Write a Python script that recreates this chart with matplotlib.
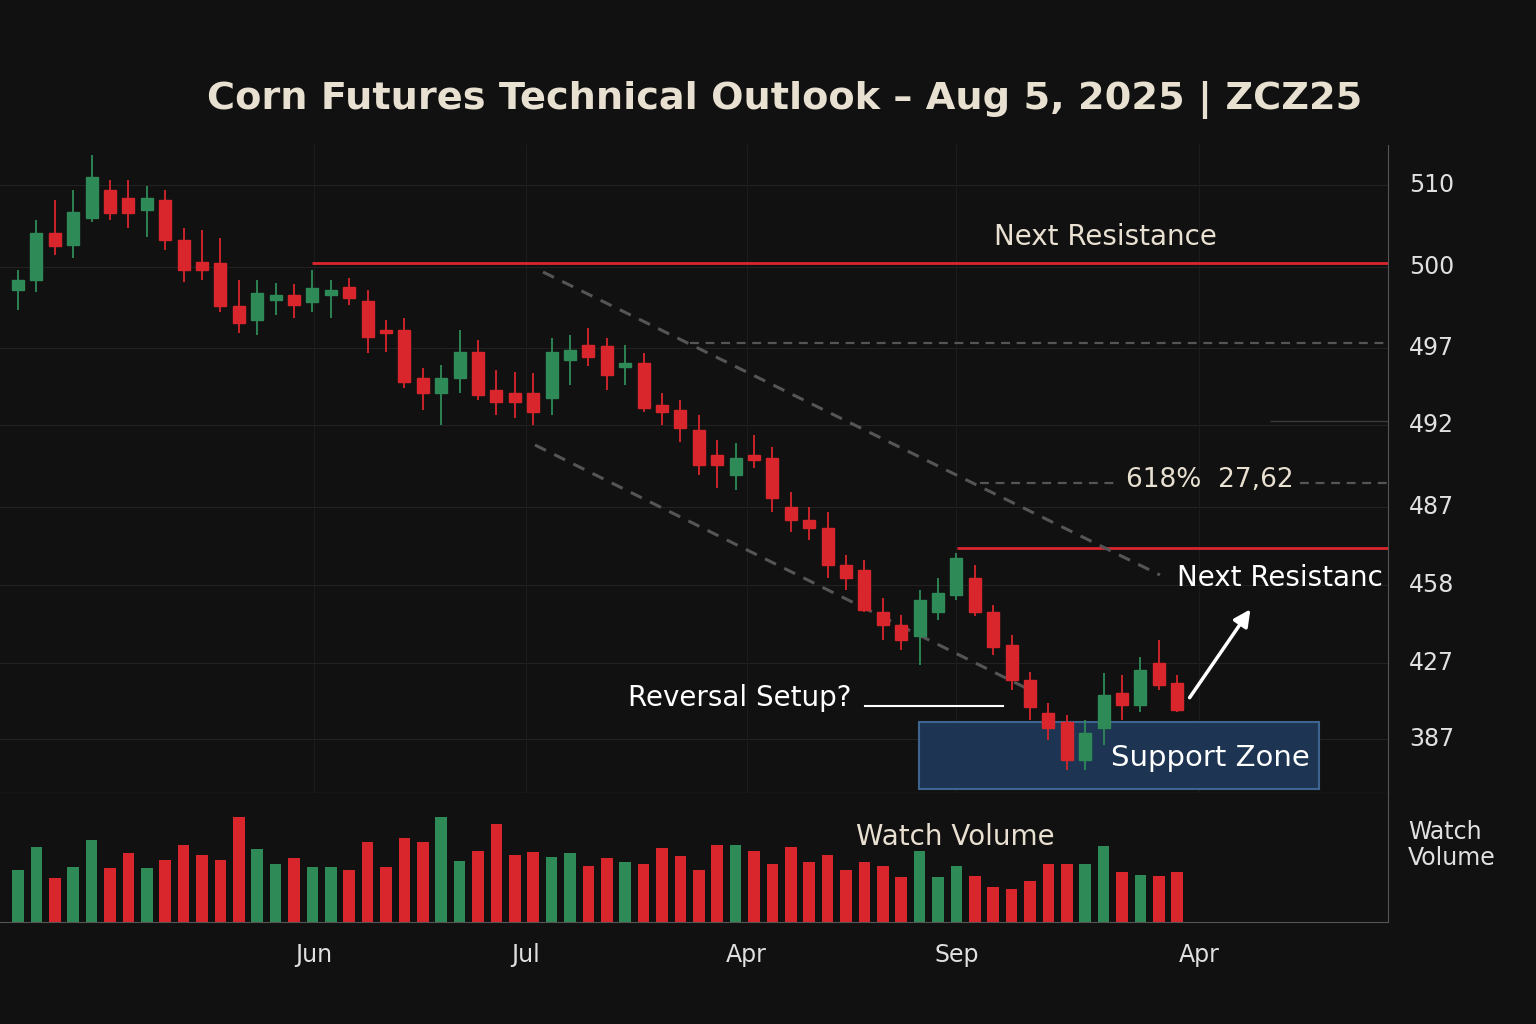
import matplotlib
matplotlib.use("Agg")
import matplotlib.pyplot as plt
from matplotlib.patches import Rectangle
import numpy as np

# Candle readings (screen-level units, larger = lower price)
opens_px = [290, 280, 233, 245, 218, 190, 198, 210, 200, 240, 262, 263, 306, 320, 300, 295, 302, 295, 287, 301,
            330, 330, 378, 393, 378, 352, 390, 393, 393, 398, 360, 345, 346, 367, 363, 405, 410, 430, 455, 475,
            455, 458, 507, 520, 528, 565, 570, 612, 625, 636, 612, 595, 578, 612, 645, 680, 713, 722, 760, 728,
            693, 705, 663, 683]
closes_px = [280, 233, 246, 212, 177, 213, 213, 198, 240, 270, 270, 306, 323, 293, 295, 305, 288, 290, 298, 337,
             333, 382, 393, 378, 352, 395, 402, 402, 412, 352, 350, 357, 375, 363, 408, 412, 428, 465, 465, 458,
             460, 498, 520, 528, 565, 578, 610, 625, 640, 600, 593, 558, 612, 647, 680, 707, 728, 760, 733, 695,
             705, 670, 685, 710]
highs_px = [270, 220, 200, 190, 155, 180, 180, 186, 190, 228, 230, 238, 280, 280, 283, 284, 270, 280, 278, 290,
            320, 318, 368, 365, 330, 340, 370, 372, 373, 338, 335, 328, 338, 345, 353, 393, 400, 415, 440, 443,
            435, 447, 492, 507, 512, 555, 560, 598, 615, 590, 578, 553, 565, 605, 635, 672, 703, 715, 720, 673,
            675, 657, 640, 675]
lows_px = [310, 292, 255, 258, 222, 220, 228, 237, 250, 282, 280, 312, 333, 335, 315, 318, 312, 318, 305, 353,
           352, 388, 410, 425, 393, 400, 415, 418, 425, 415, 385, 366, 390, 385, 412, 425, 442, 475, 488, 490,
           468, 512, 532, 540, 578, 590, 612, 640, 650, 665, 620, 600, 616, 655, 690, 720, 740, 770, 770, 745,
           720, 712, 690, 712]
volume = [52, 75, 44, 55, 82, 54, 69, 54, 62, 77, 67, 62, 105, 73, 58, 64, 55, 55, 52, 80,
          55, 84, 80, 105, 61, 71, 98, 67, 70, 65, 69, 56, 64, 60, 58, 74, 66, 52, 77, 77,
          71, 58, 75, 60, 67, 52, 60, 56, 45, 71, 45, 56, 46, 35, 33, 41, 58, 58, 58, 76,
          50, 47, 46, 50]

price_ticks_px = [185, 267, 348, 425, 507, 585, 663, 739]
price_labels = ["510", "500", "497", "492", "487", "458", "427", "387"]
month_pos = [16.1, 27.6, 39.6, 51.0, 64.2]
month_labels = ["Jun", "Jul", "Apr", "Sep", "Apr"]


def lvl(p):
    return (800 - np.asarray(p, dtype=float)) / 10


o, c, h, l = lvl(opens_px), lvl(closes_px), lvl(highs_px), lvl(lows_px)
n = len(o)
x = np.arange(n)
GREEN, RED, BG = "#2e8b57", "#d9262c", "#111111"
cols = [GREEN if cc >= oo else RED for oo, cc in zip(o, c)]

fig = plt.figure(figsize=(15.36, 10.24), dpi=100, facecolor=BG)
W, H = 1536, 1024
ax = fig.add_axes([0, (H - 793) / H, 1388 / W, (793 - 145) / H], facecolor=BG)
axv = fig.add_axes([0, (H - 922) / H, 1388 / W, (922 - 793) / H], facecolor=BG, sharex=ax)

xmin, xmax = -18 / 18.4, (1388 - 18) / 18.4
ax.set_xlim(xmin, xmax)
ax.set_ylim(lvl(793), lvl(145))


def px2x(p):
    return (p - 18) / 18.4


for a in (ax, axv):
    for s in a.spines.values():
        s.set_visible(False)
    a.spines["right"].set_visible(True)
    a.spines["right"].set_color("#555555")
    a.tick_params(left=False, right=False, bottom=False, labelleft=False, labelbottom=False)
ax.spines["bottom"].set_visible(True)
ax.spines["bottom"].set_color("#555555")
axv.spines["bottom"].set_visible(True)
axv.spines["bottom"].set_color("#555555")

# faint grid
for t in lvl(price_ticks_px):
    ax.axhline(t, color="#222222", lw=0.8, zorder=0)
for m in month_pos:
    ax.axvline(m, color="#1c1c1c", lw=0.8, zorder=0)

# support zone (behind candles)
ax.add_patch(Rectangle((px2x(919), lvl(789)), px2x(1319) - px2x(919), lvl(722) - lvl(789),
                       facecolor="#1d3552", edgecolor="#3d6590", lw=1.5, zorder=1))
ax.text(px2x(1210), lvl(758), "Support Zone", color="white", fontsize=21, ha="center", va="center", zorder=6)

# candles
for i in range(n):
    ax.vlines(x[i], l[i], h[i], color=cols[i], lw=1.3, zorder=3)
    lo, hi = min(o[i], c[i]), max(o[i], c[i])
    ax.add_patch(Rectangle((x[i] - 0.33, lo), 0.66, max(hi - lo, 0.3), facecolor=cols[i], edgecolor=cols[i], zorder=4))

# resistance/fib lines
ax.hlines(lvl(263), px2x(312), xmax, color=RED, lw=2, zorder=2)
ax.hlines(lvl(548), px2x(957), xmax, color=RED, lw=2, zorder=2)
ax.hlines(lvl(343), px2x(690), xmax, color="#555555", lw=1.6, ls=(0, (4, 3)), zorder=2)
ax.hlines(lvl(483), px2x(980), px2x(1120), color="#555555", lw=1.6, ls=(0, (4, 3)), zorder=2)
ax.hlines(lvl(483), px2x(1300), xmax, color="#555555", lw=1.6, ls=(0, (4, 3)), zorder=2)
ax.hlines(lvl(421), px2x(1270), xmax, color="#3a3a3a", lw=1, zorder=2)
ax.plot([px2x(543), px2x(1160)], [lvl(272), lvl(575)], color="#555555", lw=2.2, ls=(0, (4, 3)), zorder=2)
ax.plot([px2x(535), px2x(1030)], [lvl(445), lvl(690)], color="#555555", lw=2.2, ls=(0, (4, 3)), zorder=2)

ax.text(px2x(1105), lvl(237), "Next Resistance", color="#e8e0d0", fontsize=20, ha="center", va="center")
ax.text(px2x(1280), lvl(578), "Next Resistanc", color="white", fontsize=20, ha="center", va="center")
ax.text(px2x(1210), lvl(480), "618%  27,62", color="#e8e0d0", fontsize=19, ha="center", va="center")
ax.text(px2x(740), lvl(698), "Reversal Setup?", color="white", fontsize=20, ha="center", va="center")
ax.plot([px2x(865), px2x(1003)], [lvl(706), lvl(706)], color="white", lw=1.5)
ax.annotate("", xy=(px2x(1252), lvl(607)), xytext=(px2x(1188), lvl(700)),
            arrowprops=dict(arrowstyle="-|>", color="white", lw=2.5, mutation_scale=25))

# price labels on right
for t, lab in zip(lvl(price_ticks_px), price_labels):
    ax.text(1.015, t, lab, transform=ax.get_yaxis_transform(), color="#e0e0e0", fontsize=17, va="center")

# volume
axv.bar(x, volume, width=0.62, color=cols)
axv.set_ylim(0, 129)
axv.text(px2x(955), 85, "Watch Volume", color="#e8e0d0", fontsize=20, ha="center", va="center")
fig.text(1408 / W, 1 - 845 / H, "Watch\nVolume", color="#e0e0e0", fontsize=17, va="center", linespacing=1.1)

for m, lab in zip(month_pos, month_labels):
    fig.text((m * 18.4 + 18) / W, 1 - 955 / H, lab, color="#e0e0e0", fontsize=17, ha="center", va="center")

fig.text(785 / W, 1 - 100 / H, "Corn Futures Technical Outlook \u2013 Aug 5, 2025 | ZCZ25",
         color="#e8e0d0", fontsize=27.5, fontweight="semibold", ha="center", va="center")

fig.savefig("out.png", dpi=100, facecolor=BG)
